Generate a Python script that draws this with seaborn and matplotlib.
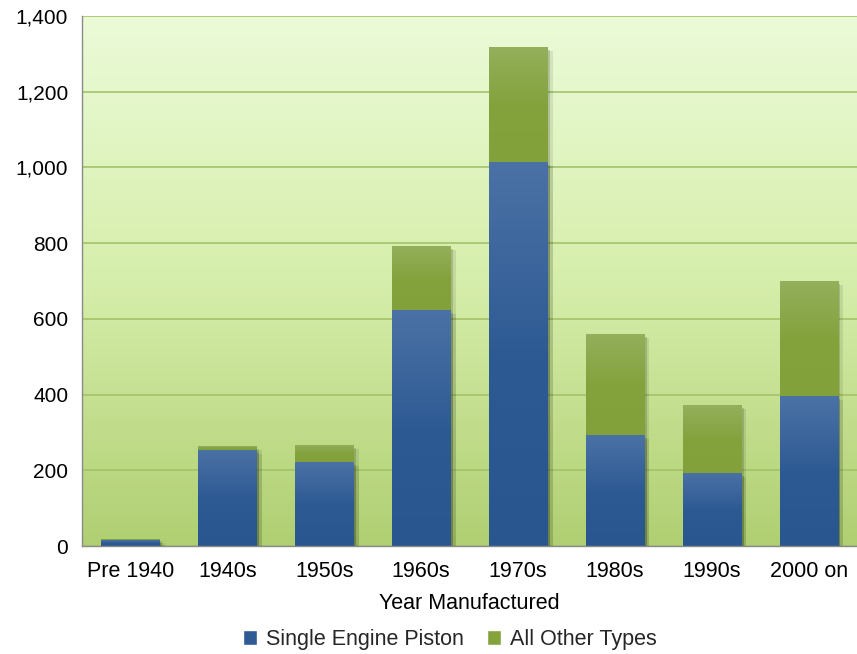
import numpy as np
import pandas as pd
import matplotlib
matplotlib.use("Agg")
import matplotlib.pyplot as plt
import matplotlib.patheffects as pe
from matplotlib.colors import LinearSegmentedColormap
from matplotlib.ticker import FuncFormatter, MultipleLocator
from matplotlib.patches import Patch
import seaborn as sns

categories = ["Pre 1940", "1940s", "1950s", "1960s", "1970s", "1980s", "1990s", "2000 on"]
single_engine = [15, 255, 222, 623, 1014, 293, 193, 396]
all_other = [5, 9, 45, 169, 304, 267, 179, 304]
series_names = ["Single Engine Piston", "All Other Types"]

totals = [a + b for a, b in zip(single_engine, all_other)]
df = pd.DataFrame({"cat": categories, "single": single_engine, "total": totals})

sns.set_theme(style="white")
plt.rcParams["font.family"] = ["Liberation Sans", "DejaVu Sans"]

fig = plt.figure(figsize=(8.57, 6.54), dpi=100)
ax = fig.add_axes([0.0957, 0.165, 0.9043, 0.8105])

# background gradient
bg = LinearSegmentedColormap.from_list("bg", ["#b0cf72", "#d6eeab", "#ebfbd8"])
grad = np.linspace(0, 1, 256).reshape(-1, 1)
ax.imshow(grad, cmap=bg, extent=(0, 1, 0, 1), transform=ax.transAxes,
          aspect="auto", origin="lower", zorder=0)

blue = "#2f5b94"
green = "#84a33d"
sns.barplot(data=df, x="cat", y="total", color=green, width=0.6, ax=ax,
            saturation=1, label=series_names[1], zorder=2)
sns.barplot(data=df, x="cat", y="single", color=blue, width=0.6, ax=ax,
            saturation=1, label=series_names[0], zorder=2.1)

shadow = [pe.SimplePatchShadow(offset=(2, -2), shadow_rgbFace="#1e2a10", alpha=0.18),
          pe.SimplePatchShadow(offset=(4, -3), shadow_rgbFace="#1e2a10", alpha=0.1),
          pe.Normal()]
n = len(categories)
patches = list(ax.patches)
green_patches = patches[:n]
blue_patches = patches[n:2 * n]

gcmap = LinearSegmentedColormap.from_list("g", ["#82a13a", "#84a33d", "#94b05c"])
bcmap = LinearSegmentedColormap.from_list("b", ["#2a5690", "#2e5a93", "#4b72a6"])
for p in green_patches + blue_patches:
    p.set_path_effects(shadow)
    p.set_edgecolor("none")
for i, (gp, bp) in enumerate(zip(green_patches, blue_patches)):
    x0 = gp.get_x(); w = gp.get_width()
    im = ax.imshow(grad, cmap=gcmap, extent=(x0, x0 + w, single_engine[i], totals[i]),
                   aspect="auto", origin="lower", zorder=2.5)
    im.set_clip_path(gp)
    im2 = ax.imshow(grad, cmap=bcmap, extent=(x0, x0 + w, 0, single_engine[i]),
                    aspect="auto", origin="lower", zorder=2.6)
    im2.set_clip_path(bp)

ax.set_xlim(-0.5, n - 0.5)
ax.set_ylim(0, 1400)
ax.yaxis.set_major_locator(MultipleLocator(200))
ax.yaxis.set_major_formatter(FuncFormatter(lambda v, _: f"{int(v):,}"))
ax.set_axisbelow(True)
ax.grid(axis="y", color="#a3c368", linewidth=1.2)
ax.tick_params(axis="both", length=0, colors="#000000")
ax.tick_params(axis="x", pad=11, labelsize=15.5)
ax.tick_params(axis="y", pad=10, labelsize=15)
ax.set_xlabel("Year Manufactured", fontsize=15.5, labelpad=8, color="#000000")
ax.set_ylabel("")
fig.canvas.draw()
glines = ax.get_ygridlines()
glines[-1].set_visible(False)
for s in ["top", "right"]:
    ax.spines[s].set_visible(False)
for s in ["left", "bottom"]:
    ax.spines[s].set_color("#8a8a8a")
    ax.spines[s].set_linewidth(1)
    ax.spines[s].set_zorder(5)

leg_handles = [Patch(facecolor=blue), Patch(facecolor=green)]
fig.legend(leg_handles, series_names, loc="center", bbox_to_anchor=(0.525, 0.022),
           ncol=2, frameon=False, fontsize=15.5, handlelength=0.65, handleheight=0.65,
           handletextpad=0.4, columnspacing=1.1)
if ax.get_legend():
    ax.get_legend().remove()

fig.savefig("out.png", dpi=100)
